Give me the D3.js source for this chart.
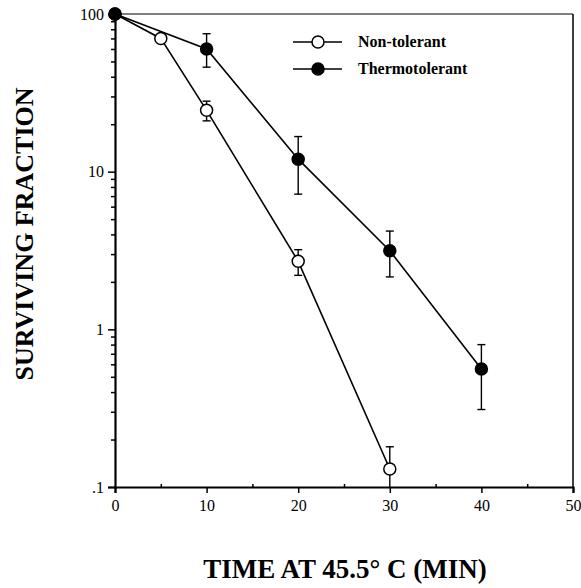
<!DOCTYPE html>
<html>
<head>
<meta charset="utf-8">
<script src="https://cdn.jsdelivr.net/npm/d3@7"></script>
<style>
  body { margin: 0; background: #fff; }
  svg text { font-family: "Liberation Serif", "DejaVu Serif", serif; fill: #000; }
</style>
</head>
<body>
<svg id="chart"></svg>
<script>
// data
var seriesNames = ["Non-tolerant", "Thermotolerant"];
var timeNon = [0, 5, 10, 20, 30];
var survNon = [100, 70, 24.5, 2.7, 0.13];
var errHiNon = [100, 74, 28, 3.2, 0.18];
var errLoNon = [100, 66, 21, 2.2, 0.09];

var timeThermo = [0, 10, 20, 30, 40];
var survThermo = [100, 60, 12, 3.15, 0.56];
var errHiThermo = [100, 75, 16.7, 4.2, 0.8];
var errLoThermo = [100, 46, 7.2, 2.15, 0.31];

var xTicks = [0, 10, 20, 30, 40, 50];
var yTickLabels = [".1", "1", "10", "100"];
var yTickValues = [0.1, 1, 10, 100];

var width = 581, height = 588;
var margin = { top: 14, right: 8, bottom: 101, left: 115 };

var svg = d3.select("#chart").attr("width", width).attr("height", height);

var x = d3.scaleLinear().domain([0, 50]).range([margin.left, width - margin.right]);
var y = d3.scaleLog().domain([0.1, 100]).range([height - margin.bottom, margin.top]);

// minor ticks for log axis
var minorY = [];
[0.1, 1, 10].forEach(function(d) {
  for (var k = 2; k <= 9; k++) minorY.push(d * k);
});

// frame top and right
svg.append("line")
  .attr("x1", x(0)).attr("x2", x(50))
  .attr("y1", y(100)).attr("y2", y(100))
  .attr("stroke", "#000").attr("stroke-width", 1.2);
svg.append("line")
  .attr("x1", x(50)).attr("x2", x(50))
  .attr("y1", y(100)).attr("y2", y(0.1))
  .attr("stroke", "#000").attr("stroke-width", 1.5);

// x axis
svg.append("g")
  .attr("transform", "translate(0," + y(0.1) + ")")
  .call(d3.axisBottom(x).tickValues(xTicks).tickFormat(d3.format("d")).tickSize(6).tickPadding(7));
svg.append("g")
  .attr("transform", "translate(0," + y(0.1) + ")")
  .call(d3.axisTop(x).tickValues([5, 15, 25, 35, 45]).tickFormat("").tickSize(3))
  .select(".domain").remove();

// y axis
svg.append("g")
  .attr("transform", "translate(" + x(0) + ",0)")
  .call(d3.axisLeft(y).tickValues(yTickValues)
    .tickFormat(function(d, i) { return yTickLabels[i]; })
    .tickSize(7).tickPadding(4));
svg.append("g")
  .attr("transform", "translate(" + x(0) + ",0)")
  .call(d3.axisLeft(y).tickValues(minorY).tickFormat("").tickSize(4))
  .select(".domain").remove();

svg.selectAll(".domain").attr("stroke-width", 2.2);
svg.selectAll(".tick line").attr("stroke-width", 1.5);
svg.selectAll(".tick text")
  .style("font-family", "'Liberation Serif', serif")
  .style("font-size", "16px");

// axis titles
svg.append("text")
  .attr("x", 345).attr("y", 578)
  .attr("text-anchor", "middle")
  .style("font-size", "27px").style("font-weight", "bold")
  .text("TIME AT 45.5° C (MIN)");

svg.append("text")
  .attr("transform", "translate(33,234) rotate(-90)")
  .attr("text-anchor", "middle")
  .style("font-size", "26px").style("font-weight", "bold")
  .text("SURVIVING FRACTION");

var line = d3.line()
  .x(function(d) { return x(d.t); })
  .y(function(d) { return y(d.v); });

function drawSeries(times, vals, hi, lo, fill) {
  var data = times.map(function(t, i) {
    return { t: t, v: vals[i], hi: hi[i], lo: Math.max(lo[i], 0.1), cap: lo[i] > 0.1 };
  });
  svg.append("path").datum(data)
    .attr("d", line)
    .attr("fill", "none").attr("stroke", "#000").attr("stroke-width", 1.6);

  var eb = svg.append("g").selectAll("g")
    .data(data.filter(function(d) { return d.hi !== d.lo; }))
    .enter().append("g");
  eb.append("line")
    .attr("x1", function(d) { return x(d.t); }).attr("x2", function(d) { return x(d.t); })
    .attr("y1", function(d) { return y(d.hi); }).attr("y2", function(d) { return y(d.lo); })
    .attr("stroke", "#000").attr("stroke-width", 1.4);
  eb.append("line")
    .attr("x1", function(d) { return x(d.t) - 4; }).attr("x2", function(d) { return x(d.t) + 4; })
    .attr("y1", function(d) { return y(d.hi); }).attr("y2", function(d) { return y(d.hi); })
    .attr("stroke", "#000").attr("stroke-width", 1.4);
  eb.filter(function(d) { return d.cap; })
    .append("line")
    .attr("x1", function(d) { return x(d.t) - 4; }).attr("x2", function(d) { return x(d.t) + 4; })
    .attr("y1", function(d) { return y(d.lo); }).attr("y2", function(d) { return y(d.lo); })
    .attr("stroke", "#000").attr("stroke-width", 1.4);

  svg.append("g").selectAll("circle")
    .data(data).enter().append("circle")
    .attr("cx", function(d) { return x(d.t); })
    .attr("cy", function(d) { return y(d.v); })
    .attr("r", 6)
    .attr("fill", fill).attr("stroke", "#000").attr("stroke-width", 1.5);
}

drawSeries(timeNon, survNon, errHiNon, errLoNon, "#fff");
drawSeries(timeThermo, survThermo, errHiThermo, errLoThermo, "#000");

// legend
var legend = svg.append("g").attr("transform", "translate(293,42)");
seriesNames.forEach(function(name, i) {
  var g = legend.append("g").attr("transform", "translate(0," + (i * 27) + ")");
  g.append("line").attr("x1", 0).attr("x2", 49).attr("y1", 0).attr("y2", 0)
    .attr("stroke", "#000").attr("stroke-width", 1.6);
  g.append("circle").attr("cx", 25).attr("cy", 0).attr("r", 6)
    .attr("fill", i === 0 ? "#fff" : "#000").attr("stroke", "#000").attr("stroke-width", 1.5);
  g.append("text").attr("x", 65).attr("y", 5)
    .style("font-size", "16px").style("font-weight", "bold")
    .text(name);
});
</script>
</body>
</html>
